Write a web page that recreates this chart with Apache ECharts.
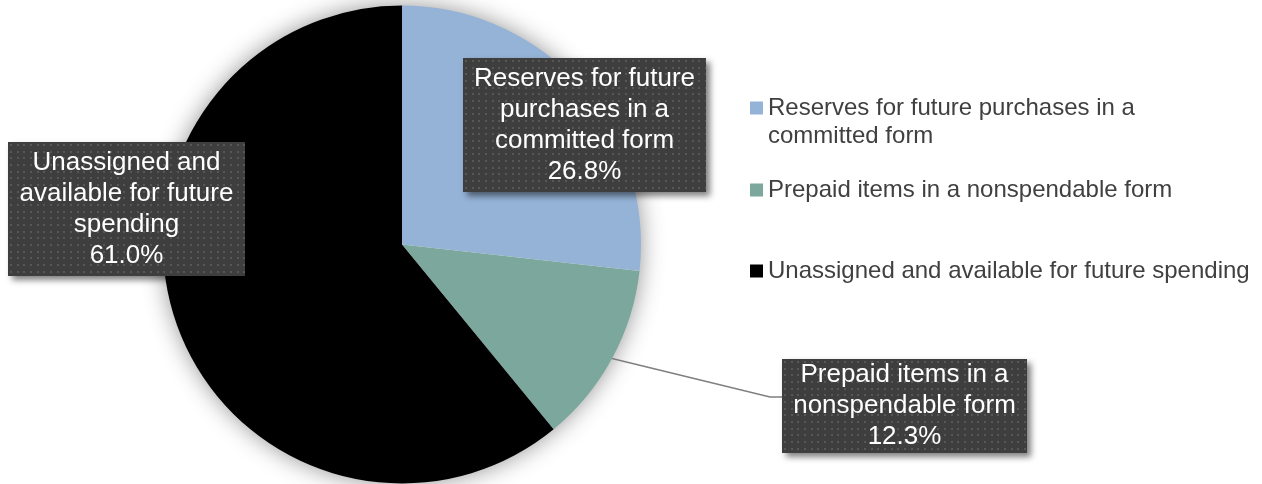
<!DOCTYPE html>
<html>
<head>
<meta charset="utf-8">
<script src="https://cdn.jsdelivr.net/npm/echarts@6/dist/echarts.min.js"></script>
<style>
  html, body { margin: 0; padding: 0; background: #ffffff; }
  #chart { width: 1262px; height: 484px; }
</style>
</head>
<body>
<div id="chart"></div>
<script>
// Fund balance composition
const categories = [
  'Reserves for future purchases in a committed form',
  'Prepaid items in a nonspendable form',
  'Unassigned and available for future spending'
];
const shares = [26.8, 12.3, 61.0];
const sliceColors = ['#95B3D7', '#7BA79D', '#000000'];
// wrapped text used inside the slice callouts
const calloutLines = [
  ['Reserves for future', 'purchases in a', 'committed form'],
  ['Prepaid items in a', 'nonspendable form'],
  ['Unassigned and', 'available for future', 'spending']
];
// wrapped text used in the legend (leading blank line keeps the swatch on the first line)
const legendLines = [
  ['', 'Reserves for future purchases in a', 'committed form'],
  ['Prepaid items in a nonspendable form'],
  ['Unassigned and available for future spending']
];

// layout of the callout boxes and legend rows
const FONT = 'Liberation Sans, Arial, sans-serif';
const LINE_H = 31;
const boxes = [
  { cx: 584.5, cy: 125, w: 243, h: 134 },
  { cx: 904.5, cy: 406, w: 245, h: 94 },
  { cx: 126.5, cy: 209, w: 237, h: 134 }
];
const legendTops = [66, 176, 257];

// dark dotted fill for the callout boxes
function dottedFill(w, h) {
  const c = document.createElement('canvas');
  c.width = w; c.height = h;
  const g = c.getContext('2d');
  g.fillStyle = '#3e3e3e';
  g.fillRect(0, 0, w, h);
  g.fillStyle = '#575757';
  const step = 6.67;
  for (let j = 0; j * step < h; j++) {
    for (let i = 0; i * step < w; i++) {
      g.fillRect(Math.round(i * step + 2), Math.round(j * step + 2), 2, 2);
    }
  }
  return c;
}

const pieData = categories.map((name, i) => {
  const nLines = calloutLines[i].length + 1;
  const padV = (boxes[i].h - nLines * LINE_H) / 2;
  return {
    name: name,
    value: shares[i],
    itemStyle: { color: sliceColors[i] },
    label: {
      width: boxes[i].w - 12,
      padding: [padV, 6, padV, 6],
      backgroundColor: { image: dottedFill(boxes[i].w, boxes[i].h) }
    },
    labelLine: { show: i === 1 }
  };
});

const chart = echarts.init(document.getElementById('chart'), null, { renderer: 'canvas' });

chart.setOption({
  animation: false,
  backgroundColor: '#ffffff',
  legend: categories.map((name, i) => ({
    data: [name],
    orient: 'vertical',
    left: 750,
    top: legendTops[i],
    padding: 0,
    itemWidth: 13,
    itemHeight: 13,
    icon: 'rect',
    selectedMode: false,
    formatter: () => legendLines[i].join('\n'),
    textStyle: { fontSize: 24, lineHeight: 28, color: '#404040', fontFamily: FONT }
  })),
  series: [
    {
      // soft halo under the pie
      type: 'pie',
      center: [402, 244.5],
      radius: 238,
      silent: true,
      z: 1,
      label: { show: false },
      labelLine: { show: false },
      itemStyle: { color: '#ffffff', shadowBlur: 24, shadowColor: 'rgba(0,0,0,0.45)' },
      data: [{ value: 1, name: '' }]
    },
    {
      type: 'pie',
      center: [402, 244.5],
      radius: 239,
      startAngle: 90,
      clockwise: true,
      z: 2,
      avoidLabelOverlap: false,
      emphasis: { disabled: true },
      label: {
        show: true,
        position: 'outside',
        formatter: (p) => calloutLines[p.dataIndex]
          .concat([p.value.toFixed(1) + '%'])
          .map(s => '{t|' + s + '}')
          .join('\n'),
        rich: {
          t: { fontSize: 26, lineHeight: LINE_H, color: '#ffffff', fontFamily: FONT, align: 'center' }
        },
        shadowBlur: 6,
        shadowOffsetX: 4,
        shadowOffsetY: 4,
        shadowColor: 'rgba(0,0,0,0.5)'
      },
      labelLine: {
        lineStyle: { color: '#7f7f7f', width: 1.5 }
      },
      labelLayout: function (p) {
        const b = boxes[p.dataIndex];
        const out = { x: b.cx, y: b.cy, align: 'center', verticalAlign: 'middle' };
        if (p.dataIndex === 1 && p.labelLinePoints) {
          const left = b.cx - b.w / 2;
          const yLine = b.cy - 9;
          out.labelLinePoints = [p.labelLinePoints[0], [left - 12, yLine], [left, yLine]];
        }
        return out;
      },
      data: pieData
    }
  ]
});
</script>
</body>
</html>
